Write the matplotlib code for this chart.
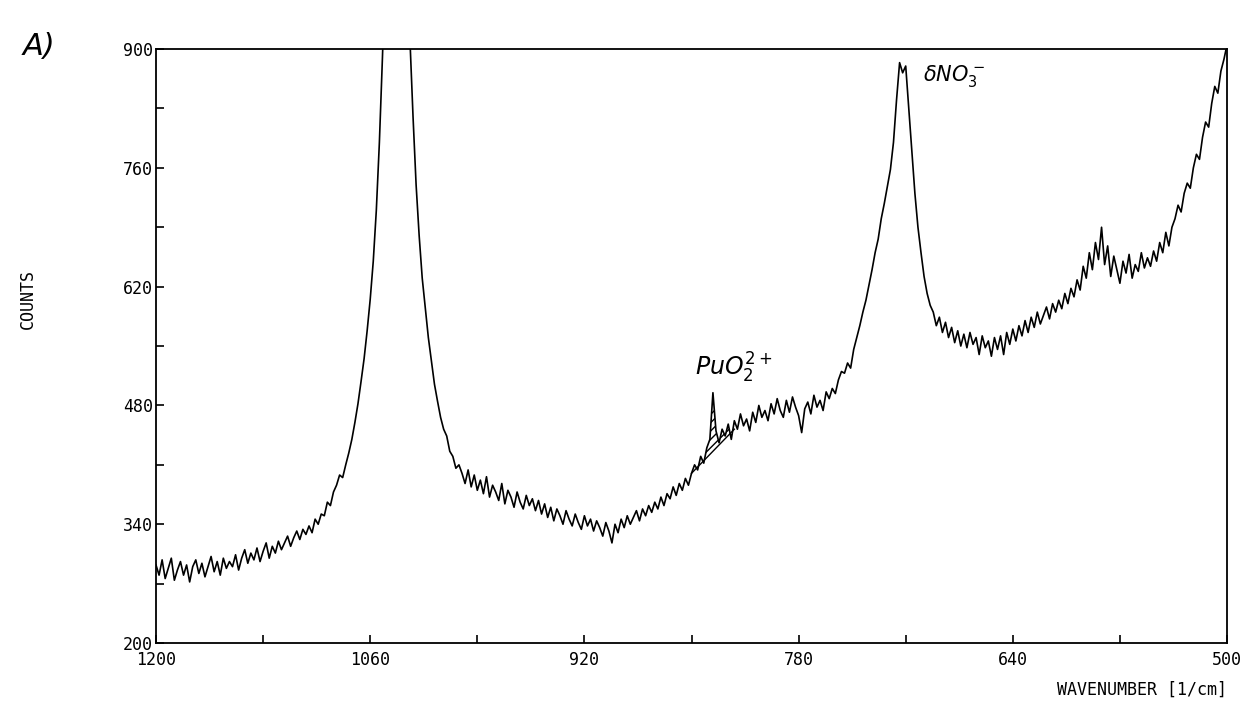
import numpy as np
import matplotlib
matplotlib.use('Agg')
import matplotlib.pyplot as plt
from matplotlib.ticker import FixedLocator

# wavenumber grid of the spectrum (2 cm-1 steps, 1200 -> 500)
wavenumber = np.arange(1200, 499, -2)

# counts, one value per grid point (25 per row = 50 cm-1)
counts = [
    292, 280, 298, 276, 288, 300, 274, 286, 296, 280, 292, 272, 290, 298, 282, 294, 278, 290, 302, 284, 296, 280, 300, 288, 296,   # 1200-1152
    290, 304, 286, 300, 310, 294, 306, 298, 312, 296, 308, 318, 300, 314, 306, 320, 310, 318, 326, 314, 324, 332, 322, 334, 328,   # 1150-1102
    338, 330, 346, 340, 352, 350, 366, 362, 378, 386, 398, 395, 410, 424, 440, 460, 482, 508, 535, 568, 605, 650, 710, 790, 890,   # 1100-1052
    1000, 1150, 1300, 1400, 1420, 1350, 1200, 1020, 910, 820, 740, 680, 630, 595, 560, 532, 505, 485, 466, 452, 444, 426, 420, 406, 410,  # 1050-1002
    400, 388, 404, 384, 398, 380, 392, 376, 396, 372, 386, 378, 368, 388, 364, 380, 372, 360, 378, 366, 358, 374, 362, 370, 356,   # 1000-952
    368, 352, 364, 348, 360, 344, 358, 350, 340, 356, 346, 338, 352, 342, 334, 350, 338, 346, 332, 344, 336, 326, 342, 332, 318,   # 950-902
    340, 330, 346, 336, 350, 340, 348, 356, 344, 358, 350, 362, 354, 366, 358, 372, 362, 376, 370, 384, 374, 388, 380, 394, 386,   # 900-852
    400, 410, 404, 420, 412, 430, 440, 495, 450, 436, 452, 444, 458, 440, 462, 452, 470, 456, 464, 450, 472, 460, 480, 466, 474,   # 850-802
    462, 482, 470, 488, 474, 466, 486, 472, 490, 478, 468, 448, 476, 484, 470, 492, 478, 486, 474, 496, 488, 500, 494, 510, 520,   # 800-752
    518, 530, 524, 546, 560, 574, 590, 604, 622, 640, 660, 676, 700, 718, 738, 758, 790, 840, 884, 872, 880, 830, 780, 730, 690,   # 750-702
    660, 632, 612, 598, 590, 574, 584, 566, 578, 560, 572, 554, 568, 550, 564, 548, 566, 552, 560, 540, 562, 548, 556, 538, 560,   # 700-652
    546, 562, 540, 566, 552, 570, 556, 574, 562, 580, 566, 584, 572, 590, 576, 586, 596, 582, 600, 590, 604, 594, 612, 600, 618,   # 650-602
    608, 628, 616, 644, 630, 660, 640, 672, 652, 690, 646, 668, 632, 656, 640, 624, 650, 636, 658, 630, 646, 638, 660, 642, 654,   # 600-552
    644, 662, 650, 672, 660, 684, 668, 690, 700, 716, 708, 730, 742, 736, 760, 776, 770, 796, 814, 808, 836, 856, 848, 874, 888,   # 550-502
    905,                                                                                                                           # 500
]

x_ticks = [1200, 1060, 920, 780, 640, 500]
x_minor = [1130, 990, 850, 710, 570]
y_ticks = [200, 340, 480, 620, 760, 900]
y_minor = [270, 410, 550, 690, 830]

# hatched PuO2(2+) band: baseline end points
pu_base_x = [850, 822]
pu_base_y = [400, 452]

plt.rcParams['mathtext.fontset'] = 'dejavusans'

fig = plt.figure(figsize=(12.49, 7.11), dpi=100, facecolor='w')
ax = fig.add_axes([0.1249, 0.0956, 0.8575, 0.8354])

ax.plot(wavenumber, counts, color='black', linewidth=1.2)

# PuO2 hatching
cnt = np.array(counts, dtype=float)
sel = (wavenumber <= pu_base_x[0]) & (wavenumber >= pu_base_x[1])
base = np.interp(wavenumber[sel], pu_base_x[::-1], pu_base_y[::-1])
ax.fill_between(wavenumber[sel], base, cnt[sel], facecolor='none',
                edgecolor='black', hatch='////', linewidth=0)
ax.plot(pu_base_x, pu_base_y, color='black', linewidth=1.0)

ax.set_xlim(1200, 500)
ax.set_ylim(200, 900)

ax.set_xticks(x_ticks)
ax.set_yticks(y_ticks)
ax.xaxis.set_minor_locator(FixedLocator(x_minor))
ax.yaxis.set_minor_locator(FixedLocator(y_minor))
ax.tick_params(which='both', direction='in', length=6, width=1.2,
               top=False, right=False, labelsize=12)
for lab in ax.get_xticklabels() + ax.get_yticklabels():
    lab.set_family('DejaVu Sans Mono')
ax.tick_params(axis='y', pad=2)
ax.tick_params(axis='x', pad=6)

for sp in ax.spines.values():
    sp.set_linewidth(1.3)

ax.text(848, 515, r'$PuO_2^{2+}$', fontsize=17, ha='left', va='baseline')
ax.text(699, 862, r'$\delta NO_3^-$', fontsize=15, ha='left', va='baseline')

fig.text(0.018, 0.935, 'A)', fontsize=22, style='italic', ha='left', va='center')
fig.text(0.022, 0.58, 'COUNTS', rotation=90, fontsize=12, ha='center', va='center',
         family='DejaVu Sans Mono')
fig.text(0.9824, 0.03, 'WAVENUMBER [1/cm]', fontsize=12, ha='right', va='center',
         family='DejaVu Sans Mono')

fig.savefig('out.png', dpi=100)
